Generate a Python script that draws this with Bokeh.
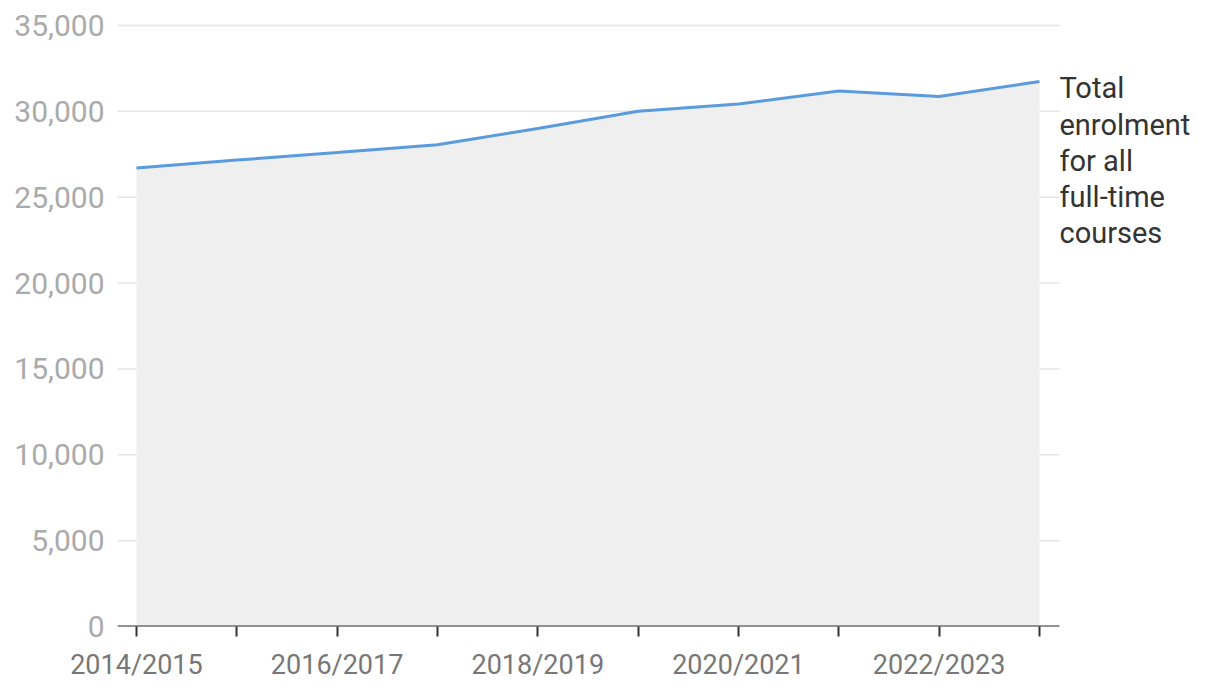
from bokeh.plotting import figure
from bokeh.models import FixedTicker, NumeralTickFormatter, Label, Range1d, ColumnDataSource
from bokeh.embed import file_html
from bokeh.resources import INLINE

# ---- data ----
years = ["2014/2015", "2015/2016", "2016/2017", "2017/2018", "2018/2019",
         "2019/2020", "2020/2021", "2021/2022", "2022/2023", "2023/2024"]
enrolment = [26700, 27160, 27600, 28060, 29000, 30000, 30430, 31180, 30870, 31740]
y_ticks = [0, 5000, 10000, 15000, 20000, 25000, 30000, 35000]
series_label = "Total\nenrolment\nfor all\nfull-time\ncourses"

idx = list(range(len(years)))
src = ColumnDataSource(dict(x=idx, y=enrolment, base=[0] * len(idx)))

X0, X_AX_END = -0.189, 9.2   # left edge of frame / right end of axis & grid

p = figure(frame_width=1087, frame_height=608, output_backend="svg", toolbar_location=None,
           x_range=Range1d(X0, 10.645), y_range=Range1d(0, 35407),
           min_border_left=117, min_border_right=0, min_border_top=18, min_border_bottom=52)
p.outline_line_color = None
p.background_fill_color = "white"
p.border_fill_color = "white"

# grid lines (stop at the end of the x axis)
p.segment(x0=[X0] * len(y_ticks), x1=[X_AX_END] * len(y_ticks), y0=y_ticks, y1=y_ticks,
          line_color="#e4e4e4", line_width=1.5)

p.varea(x="x", y1="base", y2="y", source=src, fill_color="#efefef")
p.line(x="x", y="y", source=src, line_color="#5a9bde", line_width=3)

# x axis line
p.segment(x0=[X0], x1=[X_AX_END], y0=[0], y1=[0], line_color="#333333", line_width=2)

# x axis
p.xaxis.ticker = FixedTicker(ticks=idx)
p.xaxis.major_label_overrides = {i: (years[i] if i % 2 == 0 else "") for i in idx}
p.xaxis.axis_line_color = None
p.xaxis.major_tick_line_color = "#333333"
p.xaxis.major_tick_line_width = 2
p.xaxis.major_tick_in = 0
p.xaxis.major_tick_out = 10
p.xaxis.minor_tick_line_color = None
p.xaxis.major_label_standoff = 12
p.xaxis.major_label_text_font = "Roboto"
p.xaxis.major_label_text_font_size = "27px"
p.xaxis.major_label_text_color = "#777777"
p.xgrid.grid_line_color = None

# y axis
p.yaxis.ticker = FixedTicker(ticks=y_ticks)
p.yaxis.formatter = NumeralTickFormatter(format="0,0")
p.yaxis.axis_line_color = None
p.yaxis.major_tick_line_color = None
p.yaxis.minor_tick_line_color = None
p.yaxis.major_tick_out = 0
p.yaxis.major_tick_in = 0
p.yaxis.major_label_standoff = 13
p.yaxis.major_label_text_font = "Roboto"
p.yaxis.major_label_text_font_size = "30px"
p.yaxis.major_label_text_color = "#aaaaaa"
p.ygrid.grid_line_color = None

lab = Label(x=idx[-1], y=enrolment[-1], x_offset=20, y_offset=10, text=series_label,
            text_font="Roboto", text_font_size="29px", text_color="#333333",
            text_baseline="top", text_align="left", text_line_height=1.06)
p.add_layout(lab)

open("out.html", "w").write(file_html(p, INLINE))
